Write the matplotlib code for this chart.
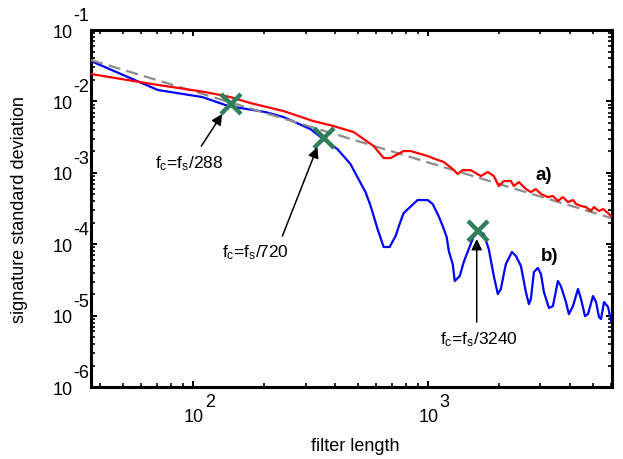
import numpy as np
import matplotlib.pyplot as plt
from matplotlib.ticker import LogLocator, FuncFormatter, NullFormatter

plt.rcParams['font.family'] = 'Liberation Sans'
plt.rcParams['mathtext.fontset'] = 'custom'
plt.rcParams['mathtext.rm'] = 'Liberation Sans'
plt.rcParams['mathtext.it'] = 'Liberation Sans:italic'

# reference slope (dashed grey)
ref_x = [36.6, 6000]
ref_y = [0.038, 2.33e-4]

# a) red curve
red_x = [36.6, 66.6, 112, 143.5, 174.6, 241.5, 324, 395, 481, 585, 645, 690, 785, 841, 900,
         993, 1043, 1162, 1270, 1334, 1400, 1515, 1672, 1791, 1900, 1995, 2097, 2246, 2313,
         2428, 2602, 2733, 2871, 3016, 3229, 3391, 3561, 3740, 3928, 4128, 4253, 4466, 4690,
         4926, 5072, 5328, 5543, 5823, 5998]
red_y = [0.0242, 0.01754, 0.01355, 0.01153, 0.0095, 0.00734, 0.00531, 0.00452, 0.00372,
         0.00237, 0.00161, 0.00161, 0.00202, 0.00202, 0.00189, 0.00172, 0.00161, 0.00142,
         0.00113, 9.62e-4, 1.09e-3, 1.09e-3, 9.02e-4, 1.026e-3, 9.02e-4, 6.53e-4, 7.68e-4,
         7.68e-4, 6.53e-4, 7.43e-4, 5.93e-4, 5.38e-4, 5.93e-4, 5.05e-4, 4.58e-4, 4.73e-4,
         4.03e-4, 4.58e-4, 3.9e-4, 4.16e-4, 3.66e-4, 3.43e-4, 3.32e-4, 2.92e-4, 3.32e-4,
         2.92e-4, 3.11e-4, 2.73e-4, 2.48e-4]

# b) blue curve
blue_x = [36.6, 70.6, 109, 140.6, 202, 241.5, 315, 357, 410, 466, 504, 540, 568, 608, 645,
          684, 725, 762, 785, 900, 993, 1043, 1106, 1151, 1197, 1222, 1270, 1295, 1361, 1415,
          1486, 1561, 1641, 1722, 1808, 1900, 1976, 2035, 2138, 2269, 2360, 2478, 2602, 2680,
          2733, 2815, 2926, 3016, 3105, 3262, 3391, 3561, 3666, 3853, 3966, 4128, 4336, 4466,
          4645, 4783, 5024, 5175, 5328, 5434, 5598, 5823, 5998]
blue_y = [0.0368, 0.01445, 0.01153, 0.00863, 0.00711, 0.00605, 0.0041, 0.00297, 0.00215,
          0.00133, 8.18e-4, 5.38e-4, 3.43e-4, 1.63e-4, 9.14e-5, 9.14e-5, 1.3e-4, 2.11e-4,
          2.73e-4, 4.16e-4, 4.16e-4, 3.66e-4, 2.48e-4, 1.8e-4, 1.26e-4, 8.03e-5, 5.28e-5,
          3.05e-5, 3.59e-5, 5.64e-5, 8.57e-5, 1.3e-4, 1.53e-4, 1.39e-4, 8.57e-5, 3.59e-5,
          2.01e-5, 2.36e-5, 5.28e-5, 7.78e-5, 6.84e-5, 4.95e-5, 2.14e-5, 1.45e-5, 1.71e-5,
          4.08e-5, 4.65e-5, 3.83e-5, 2.14e-5, 1.28e-5, 1.36e-5, 3.05e-5, 2.6e-5, 1.55e-5,
          1.05e-5, 1.36e-5, 2.36e-5, 1.71e-5, 9.86e-6, 1.05e-5, 1.88e-5, 1.55e-5, 9.55e-6,
          8.95e-6, 1.55e-5, 1.32e-5, 8.4e-6]

# cut-off markers
cut_len = [144, 360, 1620]
cut_sig = [9.2e-3, 3.07e-3, 1.53e-4]
cut_lab = ['288', '720', '3240']
# arrow tips, arrow tails, text centres
tips = [(132.5, 6.67e-3), (337, 2.3e-3), (1607, 1.18e-4)]
tails = [(108, 2.37e-3), (239, 1.30e-4), (1607, 8.13e-6)]
txts = [(95.9, 1.37e-3), (183.6, 7.78e-5), (1641, 4.7e-6)]

FS = 13

fig = plt.figure(figsize=(6.23, 4.6), dpi=100)
ax = fig.add_axes([0.146, 0.1565, 0.836, 0.776])

ax.plot(blue_x, blue_y, color='#0000ff', lw=1.6, zorder=2)
ax.plot(ref_x, ref_y, color='#8c8c8c', lw=1.6, dashes=(5.5, 2.8), zorder=3)
ax.plot(red_x, red_y, color='#ff0000', lw=1.6, zorder=4)
ax.plot(cut_len, cut_sig, 'x', color='#2e7f5a', ms=14, mew=3.2, ls='none', zorder=5)

for (tx, ty), (ax_, ay), (cx, cy), lab in zip(tips, tails, txts, cut_lab):
    ax.annotate('', xy=(tx, ty), xytext=(ax_, ay),
                arrowprops=dict(arrowstyle='-|>', color='k', lw=1.1,
                                mutation_scale=16, shrinkA=0, shrinkB=0), zorder=6)
    ax.text(cx, cy, r'f$\mathregular{_c}$=f$\mathregular{_s}$/' + lab,
            ha='center', va='center', fontsize=12.5)

ax.text(3105, 9.6e-4, 'a)', fontsize=13.5, fontweight='bold', ha='center', va='center')
ax.text(3297, 7.06e-5, 'b)', fontsize=13.5, fontweight='bold', ha='center', va='center')

ax.set_xscale('log')
ax.set_yscale('log')
ax.set_xlim(36.6, 6040)
ax.set_ylim(1e-6, 1e-1)

ax.xaxis.set_major_locator(LogLocator(base=10))
ax.yaxis.set_major_locator(LogLocator(base=10))
ax.xaxis.set_minor_locator(LogLocator(base=10, subs=np.arange(2, 10)))
ax.yaxis.set_minor_locator(LogLocator(base=10, subs=np.arange(2, 10), numticks=20))
ax.xaxis.set_major_formatter(FuncFormatter(lambda v, p: '10'))
ax.yaxis.set_major_formatter(FuncFormatter(lambda v, p: '10'))
ax.xaxis.set_minor_formatter(NullFormatter())
ax.yaxis.set_minor_formatter(NullFormatter())

ax.tick_params(which='both', direction='in', top=True, right=True, labelsize=FS)
ax.tick_params(which='major', length=4.5, width=1.4)
ax.tick_params(which='minor', length=3, width=1.2)
ax.tick_params(axis='y', which='major', pad=13)
ax.tick_params(axis='x', which='major', pad=15)
for s in ax.spines.values():
    s.set_linewidth(2.2)

# exponents of the decade labels
for k in range(-6, 0):
    ax.annotate(str(k), xy=(0, 10.0 ** k), xycoords=('axes fraction', 'data'),
                xytext=(-13, 10.5), textcoords='offset points',
                ha='left', va='center', fontsize=FS)
for k in [2, 3]:
    ax.annotate(str(k), xy=(10.0 ** k, 0), xycoords=('data', 'axes fraction'),
                xytext=(8.2, -10.5), textcoords='offset points',
                ha='left', va='center', fontsize=FS)

ax.set_xlabel('filter length', fontsize=FS)
ax.set_ylabel('signature standard deviation', fontsize=FS)
ax.xaxis.set_label_coords(0.507, -0.14)
ax.yaxis.set_label_coords(-0.12, 0.5)

fig.savefig('out.png', dpi=100)
